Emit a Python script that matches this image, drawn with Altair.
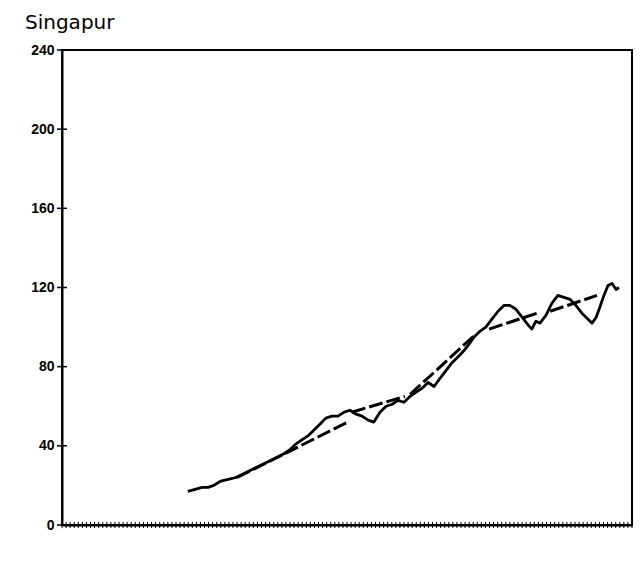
import altair as alt
import pandas as pd

# Main series (time index in quarters, value)
line_x = [30.9, 32.7, 34.4, 35.9, 37.3, 38.8, 40.8, 42.7, 44.7, 46.7, 48.6, 50.6, 52.6, 54.5,
          56.0, 57.5, 58.9, 60.4, 61.9, 63.4, 64.8, 66.3, 67.8, 69.3, 70.7, 72.2, 73.7, 75.2,
          76.6, 78.1, 79.6, 81.1, 82.5, 84.0, 85.5, 86.9, 88.4, 89.9, 91.4, 92.8, 94.3, 95.8,
          97.3, 98.7, 100.2, 101.2, 102.7, 104.1, 105.6, 107.1, 108.6, 110.0, 111.5, 113.0,
          114.5, 115.4, 116.4, 117.4, 118.9, 120.3, 121.8, 123.3, 124.8, 126.2, 127.7, 129.2,
          130.2, 131.2, 132.1, 133.1, 134.1, 135.1, 136.1, 136.8]
line_y = [17, 18, 19, 19, 20, 22, 23, 24, 26, 28, 30, 32, 34, 36,
          38, 41, 43, 45, 48, 51, 54, 55, 55, 57, 58, 56, 55, 53,
          52, 57, 60, 61, 63, 62, 65, 67, 69, 72, 70, 74, 78, 82,
          85, 88, 92, 95, 98, 100, 104, 108, 111, 111, 109, 105,
          101, 99, 103, 102, 106, 112, 116, 115, 114, 111, 107, 104,
          102, 105, 110, 116, 121, 122, 119, 120]

# Trend segments
trend_seg = [1, 1, 2, 2, 3, 3, 4, 4, 5, 5]
trend_x = [43.0, 70.2, 71.2, 84.2, 85.5, 101.4, 104.9, 116.7, 119.9, 131.4]
trend_y = [24, 52, 57, 65, 66, 96, 99, 107, 108, 116]

y_ticks = [0, 40, 80, 120, 160, 200, 240]
x_ticks = list(range(0, 141))

W, H = 570, 475

line_df = pd.DataFrame({"t": line_x, "v": line_y})
trend_df = pd.DataFrame({"seg": trend_seg, "t": trend_x, "v": trend_y})
xt_df = pd.DataFrame({"t": x_ticks})
yt_df = pd.DataFrame({"v": y_ticks})

x_scale = alt.Scale(domain=[0, 140], nice=False, zero=False)
y_scale = alt.Scale(domain=[0, 240], nice=False)

x_axis = alt.Axis(values=[0, 140], labels=False, title=None, ticks=False,
                  domainColor="black", domainWidth=2, grid=False)
y_axis = alt.Axis(values=y_ticks, title=None, ticks=False,
                  domainColor="black", domainWidth=2, grid=False, labelFont="Liberation Sans",
                  labelFontWeight="bold", labelFontSize=14, labelColor="black", labelPadding=8)

main = alt.Chart(line_df).mark_line(color="black", strokeWidth=2.8, strokeJoin="round").encode(
    x=alt.X("t:Q", scale=x_scale, axis=x_axis),
    y=alt.Y("v:Q", scale=y_scale, axis=y_axis),
)

trend = alt.Chart(trend_df).mark_line(color="black", strokeWidth=3, strokeDash=[14, 4]).encode(
    x=alt.X("t:Q", scale=x_scale),
    y=alt.Y("v:Q", scale=y_scale),
    detail="seg:N",
)

xticks = alt.Chart(xt_df).mark_rule(color="black", strokeWidth=1).encode(
    x=alt.X("t:Q", scale=x_scale),
    y=alt.value(H - 3),
    y2=alt.value(H + 3),
)

yticks = alt.Chart(yt_df).mark_rule(color="black", strokeWidth=1.5).encode(
    y=alt.Y("v:Q", scale=y_scale),
    x=alt.value(-5),
    x2=alt.value(5),
)

chart = alt.layer(main, trend, xticks, yticks).properties(
    width=W,
    height=H,
    autosize=alt.AutoSizeParams(type="none"),
    padding={"left": 54, "top": 42, "right": 3, "bottom": 30},
    title=alt.TitleParams("Singapur", anchor="start", frame="group", dx=-37, offset=10,
                          fontSize=20, font="DejaVu Sans", fontWeight="normal", color="black"),
).configure_view(stroke="black", strokeWidth=2)

chart.save("out.html", embed_options={"renderer": "svg", "actions": False})
